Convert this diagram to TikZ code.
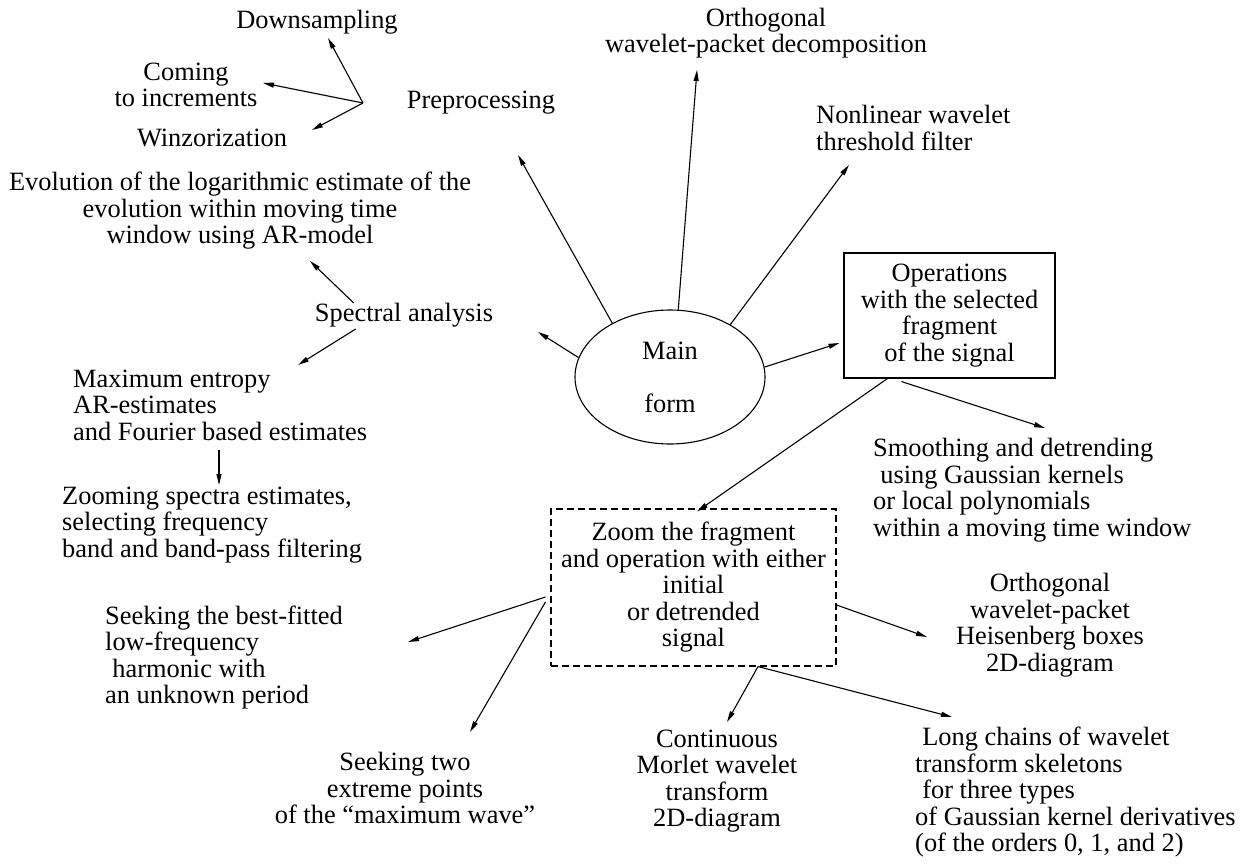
\documentclass[tikz,border=0pt]{standalone}
\usepackage{fontspec}
\setmainfont{Liberation Serif}
\usetikzlibrary{arrows.meta,shapes.geometric,calc}
\begin{document}
\begin{tikzpicture}[x=1pt,y=-1pt,
  every node/.style={font=\fontsize{26.4}{26.5}\selectfont, inner sep=0pt},
  txt/.style={align=center},
  txtl/.style={align=left, anchor=west},
  arr/.style={line width=1.1pt, -{Triangle[length=11pt,width=5pt]}},
  boxsolid/.style={draw, line width=1.1pt, minimum width=211pt, minimum height=125pt, align=center},
  boxdash/.style={draw, line width=1.1pt, dash pattern=on 7pt off 4pt, minimum width=285pt, minimum height=157pt, align=center}]
\useasboundingbox (0,0) rectangle (1241,864);
\fill[white] (0,0) rectangle (1241,864);

% ---- nodes ----
\node[txt] (down) at (317,22) {Downsampling};
\node[txt] (coming) at (186,85) {Coming\\to increments};
\node[txt] (winz) at (212,138) {Winzorization};
\coordinate (hub) at (363,103);
\node[txt] (pre) at (481,103) {Preprocessing};
\node[txt] (orth) at (766,33) {Orthogonal\\wavelet-packet decomposition};
\node[txtl] (nonlin) at (816,128) {Nonlinear wavelet\\threshold filter};
\node[txt] (evol) at (240,211) {Evolution of the logarithmic estimate of the\\evolution within moving time\\window using AR-model};
\node[txt] (spec) at (404,315) {Spectral analysis};
\node[txtl] (maxent) at (73,405) {Maximum entropy\\AR-estimates\\and Fourier based estimates};
\node[txtl] (zoomsp) at (62,525) {Zooming spectra estimates,\\selecting frequency\\band and band-pass filtering};
\node[draw, ellipse, line width=1.1pt, minimum width=190pt, minimum height=134pt, align=center] (main) at (670,377) {Main\\[26.5pt]form};
\node[boxsolid] (ops) at (949.5,315.5) {Operations\\with the selected\\fragment\\of the signal};
\node[txtl] (smooth) at (873,490) {Smoothing and detrending\\\hspace*{0.27em}using Gaussian kernels\\or local polynomials\\within a moving time window};
\node[boxdash] (zbox) at (693.5,587.5) {Zoom the fragment\\and operation with either\\initial\\or detrended\\signal};
\node[txt] (opr) at (1050,625) {Orthogonal\\wavelet-packet\\Heisenberg boxes\\2D-diagram};
\node[txtl] (seek1) at (105,657.5) {Seeking the best-fitted\\low-frequency\\\hspace*{0.27em}harmonic with\\an unknown period};
\node[txt] (seek2) at (405,788) {Seeking two\\extreme points\\of the “maximum wave”};
\node[txt] (cont) at (717,781) {Continuous\\Morlet wavelet\\transform\\2D-diagram};
\node[txtl] (long) at (915,792.5) {\hspace*{0.27em}Long chains of wavelet\\transform skeletons\\\hspace*{0.27em}for three types\\of Gaussian kernel derivatives\\(of the orders 0, 1, and 2)};

% ---- arrow end points ----
\coordinate (downIn) at (328,38);
\coordinate (comingIn) at (263,83);
\coordinate (winzIn) at (312,130);
\coordinate (preIn) at (518,155);
\coordinate (orthIn) at (697,70);
\coordinate (nonlinIn) at (849,165);
\coordinate (specIn) at (538,332);
\coordinate (evolIn) at (310,261);
\coordinate (maxentIn) at (298,365);
\coordinate (zoomspIn) at (219,485);
\coordinate (seek1In) at (408,642);
\coordinate (seek2In) at (470,732);
\coordinate (oprIn) at (927,637);
\coordinate (contIn) at (727,722);
\coordinate (longIn) at (952,717);
\coordinate (smoothIn) at (1045,428);

% ---- connectors ----
\draw[arr] (hub) -- (downIn);
\draw[arr] (hub) -- (comingIn);
\draw[arr] (hub) -- (winzIn);
\draw[arr] (main.137) -- (preIn);
\draw[arr] (main.83) -- (orthIn);
\draw[arr] (main.41) -- (nonlinIn);
\draw[arr] (main.168.5) -- (specIn);
\draw[arr] (main.6) -- ($(ops.west)+(-4,27.5)$);
\draw[arr] ($(spec.west)+(39,-12)$) -- (evolIn);
\draw[arr] ($(spec.west)+(41,14)$) -- (maxentIn);
\draw[arr] ($(maxent.west)+(146,45)$) -- (zoomspIn);
\draw[arr] ($(ops.south west)+(44,0)$) -- ($(zbox.north)+(3.5,3)$);
\draw[arr] ($(ops.south west)+(58,3)$) -- (smoothIn);
\draw[arr] ($(zbox.west)+(-5,9.5)$) -- (seek1In);
\draw[arr] ($(zbox.west)+(-5,14.5)$) -- (seek2In);
\draw[arr] ($(zbox.east)+(0,17.5)$) -- (oprIn);
\draw[arr] ($(zbox.south)+(64.5,0)$) -- (contIn);
\draw[arr] ($(zbox.south)+(64.5,0)$) -- (longIn);
\end{tikzpicture}
\end{document}
